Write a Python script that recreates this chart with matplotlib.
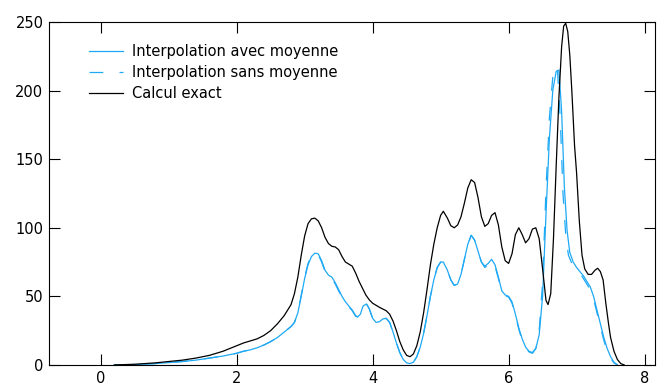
import numpy as np
import matplotlib
matplotlib.use("Agg")
import matplotlib.pyplot as plt

# Calcul exact
x_exact = [0.2, 0.5, 0.8, 1.0, 1.2, 1.4, 1.6, 1.8, 2.0, 2.1, 2.2, 2.3, 2.4, 2.5, 2.6, 2.7, 2.8, 2.85,
           2.9, 2.95, 3.0, 3.05, 3.1, 3.15, 3.2, 3.25, 3.3, 3.35, 3.4, 3.45, 3.5, 3.55, 3.6, 3.65,
           3.7, 3.75, 3.8, 3.85, 3.9, 3.95, 4.0, 4.1, 4.2, 4.25, 4.3, 4.35, 4.4, 4.45, 4.5, 4.55,
           4.6, 4.65, 4.7, 4.75, 4.8, 4.85, 4.9, 4.95, 5.0, 5.04, 5.1, 5.15, 5.2, 5.25, 5.3, 5.35,
           5.4, 5.45, 5.5, 5.55, 5.6, 5.65, 5.7, 5.75, 5.8, 5.85, 5.9, 5.95, 6.0, 6.05, 6.1, 6.15,
           6.2, 6.25, 6.3, 6.35, 6.4, 6.45, 6.5, 6.55, 6.58, 6.62, 6.66, 6.7, 6.74, 6.78, 6.81,
           6.84, 6.87, 6.9, 6.93, 6.97, 7.0, 7.04, 7.08, 7.12, 7.17, 7.22, 7.27, 7.31, 7.35, 7.39,
           7.43, 7.47, 7.5, 7.55, 7.6, 7.65, 7.7]
y_exact = [0, 0.5, 1.5, 2.5, 3.5, 5, 7, 10, 14, 16, 17.5, 19, 21.5, 25, 30, 36, 44, 52,
           64, 80, 94, 103, 106.5, 107, 105, 100, 93, 88.5, 86.5, 86, 84, 79, 75, 73.5,
           72, 67, 61, 56, 51, 47.5, 45, 42, 39.5, 37, 32, 25, 17, 11, 7, 6,
           8, 14, 24, 38, 55, 73, 88, 100, 109, 112, 107, 101.5, 100, 102, 108, 118,
           129, 135, 133, 122, 108, 101, 103, 109, 111, 102, 86, 76, 74, 81, 95, 100,
           95, 89, 92, 99, 100, 92, 70, 47, 44, 52, 92, 145, 195, 232, 247,
           249, 243, 226, 200, 160, 140, 105, 80, 70, 66, 66, 69, 70.5, 68, 62,
           45, 30, 20, 10, 4, 1, 0]

# Interpolation avec moyenne
x_avec = [0.2, 0.5, 0.8, 1.0, 1.2, 1.4, 1.6, 1.8, 2.0, 2.1, 2.2, 2.3, 2.4, 2.5, 2.6, 2.7, 2.8, 2.85,
          2.9, 2.95, 3.0, 3.05, 3.1, 3.15, 3.2, 3.25, 3.3, 3.35, 3.4, 3.45, 3.5, 3.55, 3.6, 3.65,
          3.7, 3.75, 3.78, 3.82, 3.86, 3.91, 3.95, 4.0, 4.05, 4.1, 4.15, 4.2, 4.25, 4.3, 4.35,
          4.4, 4.45, 4.5, 4.55, 4.6, 4.65, 4.7, 4.75, 4.8, 4.85, 4.9, 4.95, 5.0, 5.04, 5.1, 5.15,
          5.2, 5.25, 5.3, 5.35, 5.4, 5.45, 5.5, 5.55, 5.6, 5.65, 5.7, 5.75, 5.8, 5.85, 5.9, 5.95,
          6.0, 6.05, 6.1, 6.15, 6.2, 6.25, 6.3, 6.35, 6.4, 6.45, 6.5, 6.55, 6.6, 6.65, 6.7, 6.74,
          6.78, 6.82, 6.86, 6.9, 6.95, 7.0, 7.05, 7.1, 7.15, 7.2, 7.25, 7.3, 7.35, 7.4, 7.45,
          7.5, 7.55, 7.6]
y_avec = [0, 0.3, 1, 1.7, 2.5, 3.5, 5, 6.5, 8.5, 10, 11, 12.5, 14.5, 17, 20, 24, 28, 31,
          38, 50, 63, 73, 79, 81.5, 81, 76, 69, 65.5, 64, 60, 55, 50, 46, 43,
          40, 36, 35, 37, 43, 44.5, 41, 34, 31, 31.5, 33.5, 34, 31, 24, 16,
          9, 4, 1.5, 1, 2, 6, 13, 23, 36, 50, 62, 71, 75, 75, 69, 62,
          58, 59, 66, 77, 88, 94.5, 91, 83, 75, 72, 74, 77, 73, 64, 54, 51,
          50, 46, 37, 27, 19, 13, 10, 9, 12, 22, 50, 110, 165, 200, 214, 215,
          185, 130, 98, 82, 75, 71, 68, 65, 61, 57, 50, 40, 30, 20, 12,
          6, 2, 0]

# Interpolation sans moyenne
x_sans = [0.2, 0.5, 0.8, 1.0, 1.2, 1.4, 1.6, 1.8, 2.0, 2.1, 2.2, 2.3, 2.4, 2.5, 2.6, 2.7, 2.8, 2.85,
          2.9, 2.95, 3.0, 3.05, 3.1, 3.15, 3.2, 3.25, 3.3, 3.35, 3.4, 3.45, 3.5, 3.55, 3.6, 3.65,
          3.7, 3.75, 3.78, 3.82, 3.86, 3.91, 3.95, 4.0, 4.05, 4.1, 4.15, 4.2, 4.25, 4.3, 4.35,
          4.4, 4.45, 4.5, 4.55, 4.6, 4.65, 4.7, 4.75, 4.8, 4.85, 4.9, 4.95, 5.0, 5.04, 5.1, 5.15,
          5.2, 5.25, 5.3, 5.35, 5.4, 5.45, 5.5, 5.55, 5.6, 5.65, 5.7, 5.75, 5.8, 5.85, 5.9, 5.95,
          6.0, 6.05, 6.1, 6.15, 6.2, 6.25, 6.3, 6.35, 6.4, 6.45, 6.5, 6.55, 6.6, 6.65, 6.69, 6.72,
          6.76, 6.8, 6.84, 6.88, 6.93, 7.0, 7.05, 7.1, 7.15, 7.2, 7.25, 7.3, 7.35, 7.4, 7.45,
          7.5, 7.55, 7.6]
y_sans = [0, 0.3, 1, 1.7, 2.5, 3.5, 5, 6.5, 8.5, 10, 11, 12.5, 14.5, 17, 20, 24, 28, 31,
          38, 51, 64, 74, 79.5, 82, 80.5, 75, 68, 64.5, 63, 59, 54, 49.5, 45.5, 42.5,
          39.5, 35.5, 35, 37, 43, 44.5, 41, 34, 31, 31.5, 33.5, 34, 31, 24, 16,
          9, 4, 1.5, 1, 2, 6, 13, 23, 36, 50, 62, 71, 75, 75, 69, 62,
          58, 59, 66, 77, 88, 94.5, 91, 83, 75, 71, 73, 76, 72, 63, 53, 50.5,
          49.5, 45, 36, 26, 18, 12.5, 9.5, 8.5, 12, 25, 60, 128, 180, 210, 218, 214,
          180, 125, 95, 80, 74, 70, 67, 63, 59, 55, 48, 38, 28, 18, 10,
          5, 1.5, 0]

blue = "#1fa9f5"

fig = plt.figure(figsize=(6.57, 3.92), dpi=100)
ax = fig.add_axes([0.0746, 0.069, 0.922, 0.875])

ax.plot(x_avec, y_avec, color=blue, lw=0.9, label="Interpolation avec moyenne")
ax.plot(x_sans, y_sans, color=blue, lw=0.9, dashes=(11, 13), label="Interpolation sans moyenne")
ax.plot(x_exact, y_exact, color="black", lw=0.9, label="Calcul exact")

ax.set_xlim(-0.76, 8.15)
ax.set_ylim(0, 250)
ax.set_xticks([0, 2, 4, 6, 8])
ax.set_yticks([0, 50, 100, 150, 200, 250])
ax.tick_params(direction="in", length=8, width=0.8, top=True, right=True,
               labelsize=10.5, pad=4)
for s in ax.spines.values():
    s.set_linewidth(0.8)

ax.legend(loc="upper left", bbox_to_anchor=(0.066, 0.935), frameon=False,
          fontsize=10.5, handlelength=2.35, handletextpad=0.6,
          labelspacing=0.42, borderpad=0, borderaxespad=0)

fig.savefig("out.png", dpi=100)
